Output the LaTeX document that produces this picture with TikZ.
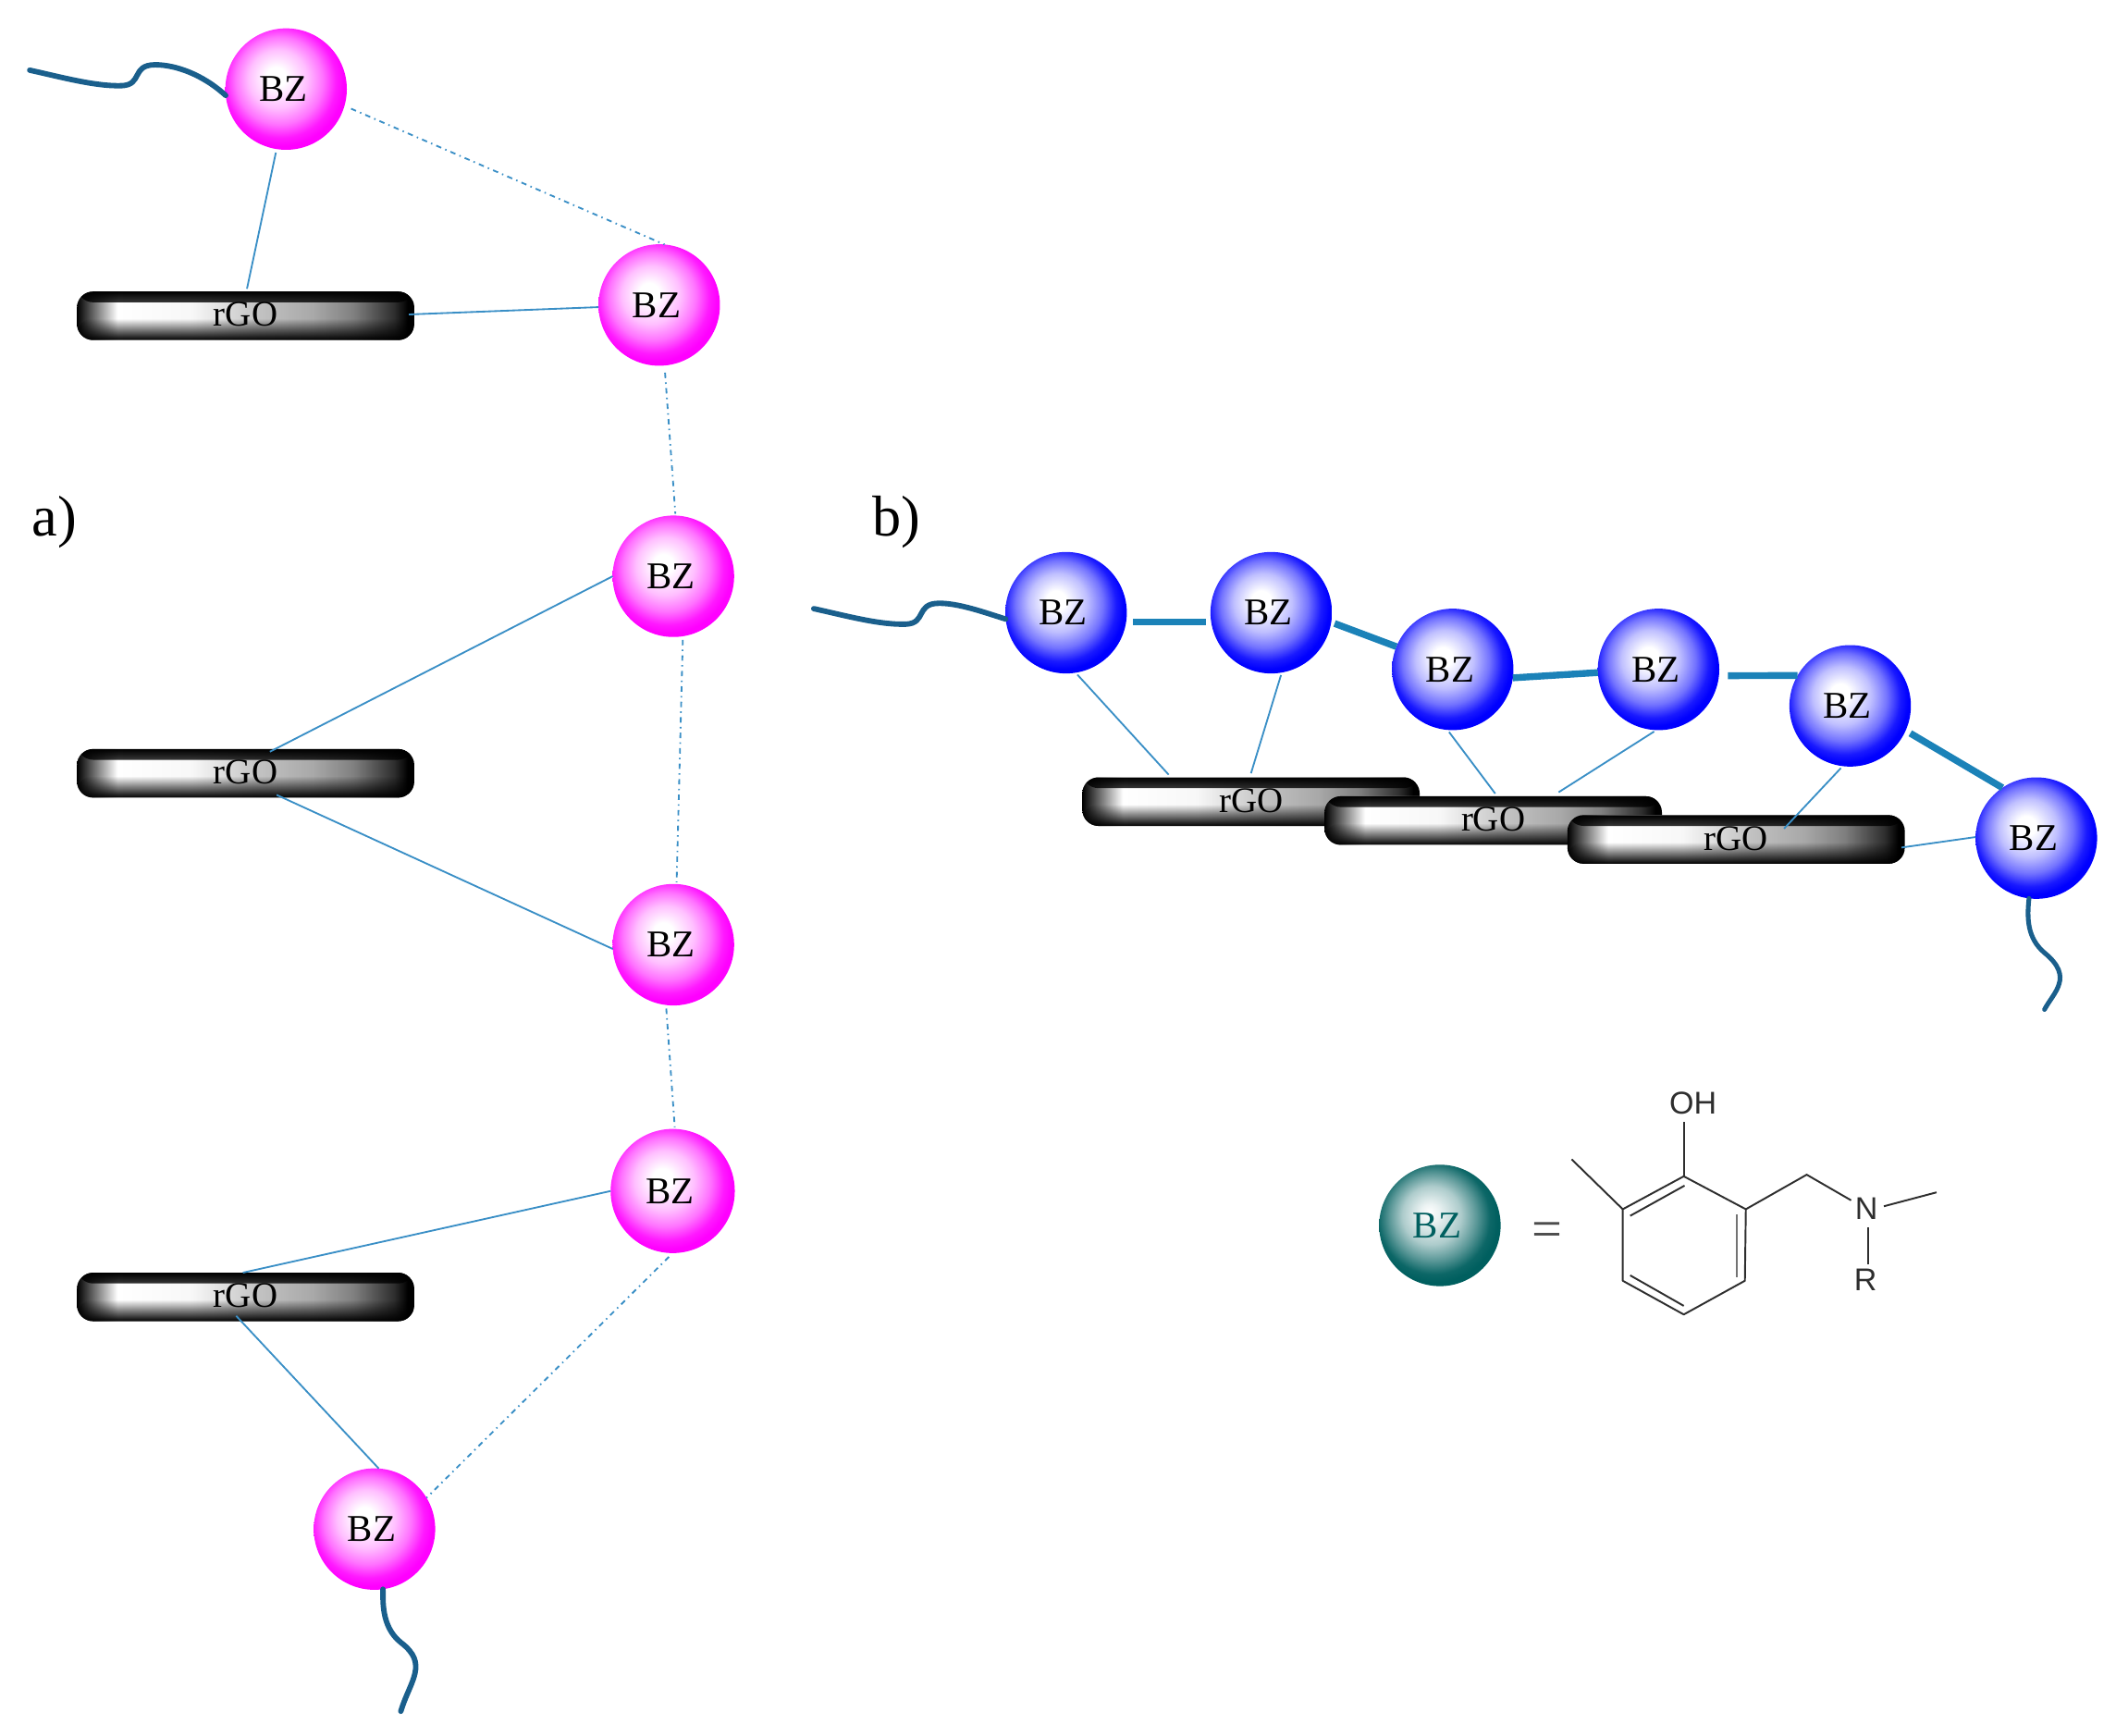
\documentclass[tikz,border=0pt]{standalone}
\usepackage{fontspec}
\setmainfont{Liberation Serif}
\newfontfamily\chemfont{Liberation Sans}
\usetikzlibrary{fadings}
\definecolor{thinblue}{HTML}{3A8FC6}
\definecolor{thickblue}{HTML}{1B82B8}
\definecolor{tailblue}{HTML}{1A5F8C}
\definecolor{bondgray}{HTML}{2E2E2E}
\definecolor{tealrim}{HTML}{005F5F}
\pgfdeclareradialshading{ballmag}{\pgfpoint{-4.5bp}{5.5bp}}{color(0bp)=(white);color(4bp)=(white);color(12bp)=(magenta!25!white);color(18bp)=(magenta!55!white);color(23bp)=(magenta!90!white);color(26bp)=(magenta);color(50bp)=(magenta)}
\pgfdeclareradialshading{ballblue}{\pgfpoint{-4.5bp}{5.5bp}}{color(0bp)=(white);color(4bp)=(white);color(12bp)=(blue!25!white);color(18bp)=(blue!55!white);color(23bp)=(blue!90!white);color(26bp)=(blue);color(50bp)=(blue)}
\pgfdeclareradialshading{ballteal}{\pgfpoint{-4.5bp}{5.5bp}}{color(0bp)=(white);color(4bp)=(tealrim!8!white);color(12bp)=(tealrim!32!white);color(18bp)=(tealrim!65!white);color(23bp)=(tealrim!95!white);color(26bp)=(tealrim);color(50bp)=(tealrim)}
\pgfdeclarehorizontalshading{barh}{100bp}{color(0bp)=(black);color(25bp)=(black);color(28bp)=(white!50!black);color(31bp)=(white);color(42bp)=(white!97!black);color(52bp)=(white!76!black);color(60bp)=(white!66!black);color(66bp)=(white!50!black);color(72bp)=(white!18!black);color(74bp)=(black);color(100bp)=(black)}
\tikzfading[name=fadedown, top color=transparent!0, bottom color=transparent!100]
\tikzfading[name=fadeup, top color=transparent!100, bottom color=transparent!0]
\tikzset{
  x=0.75pt,y=-0.75pt,
  ball/.style={circle,inner sep=0pt,outer sep=0pt,minimum size=67.5pt,text=black,
    font=\fontsize{21}{21}\selectfont},
  magball/.style={ball,shading=ballmag},
  blueball/.style={ball,shading=ballblue},
  tealball/.style={ball,shading=ballteal,text=tealrim},
  bar/.style={rectangle,rounded corners=9pt,inner sep=0pt,outer sep=0pt,
    minimum width=187.5pt,minimum height=27pt,shading=barh,
    font=\fontsize{20}{20}\selectfont,
    path picture={
      \fill[black,path fading=fadedown] (path picture bounding box.north west) rectangle ([yshift=-6pt]path picture bounding box.north east);
      \fill[black,path fading=fadeup] ([yshift=12pt]path picture bounding box.south west) rectangle (path picture bounding box.south east);
    }},
  thinlink/.style={draw=thinblue,line width=0.95pt},
  dashlink/.style={draw=thinblue,line width=0.95pt,dash pattern=on 3pt off 2.4pt on 0.8pt off 2.4pt},
  thicklink/.style={draw=thickblue,line width=3.8pt},
  tail/.style={draw=tailblue,line width=3pt,line cap=round},
  bond/.style={draw=bondgray,line width=1pt},
  grayline/.style={draw=black!55,line width=1.5pt},
  chem/.style={inner sep=0pt,text=bondgray,font=\chemfont\fontsize{17.5}{17.5}\selectfont},
  panel/.style={inner sep=0pt,font=\fontsize{32}{32}\selectfont},
}
\begin{document}
\begin{tikzpicture}
\useasboundingbox (0,0) rectangle (1568,1286);
% bars
\node[bar] (g1) at (182,234) {\raisebox{1.5pt}{rGO}};
\node[bar] (g2) at (182,573) {\raisebox{1.5pt}{rGO}};
\node[bar] (g3) at (182,961) {\raisebox{1.5pt}{rGO}};
\node[bar] (h1) at (927,594) {\raisebox{1.5pt}{rGO}};
\node[bar] (h2) at (1106.5,608) {\raisebox{1.5pt}{rGO}};
\node[bar] (h3) at (1286.5,622) {\raisebox{1.5pt}{rGO}};
% balls
\node[magball] (m1) at (212,66) {BZ\kern3pt};
\node[magball] (m2) at (488.5,226) {BZ\kern3pt};
\node[magball] (m3) at (499,427) {BZ\kern3pt};
\node[magball] (m4) at (499,700) {BZ\kern3pt};
\node[magball,minimum size=69pt] (m5) at (498.5,882.5) {BZ\kern3pt};
\node[magball] (m6) at (277.5,1133) {BZ\kern3pt};
\node[blueball] (b1) at (790,454) {BZ\kern3pt};
\node[blueball] (b2) at (942,454) {BZ\kern3pt};
\node[blueball] (b3) at (1076.5,496) {BZ\kern3pt};
\node[blueball] (b4) at (1229,496) {BZ\kern3pt};
\node[blueball] (b5) at (1371,523) {BZ\kern3pt};
\node[blueball] (b6) at (1509,621) {BZ\kern3pt};
\node[tealball] (leg) at (1067,908) {BZ\kern3pt};
% attachment points on the bars
\coordinate (g1a) at (183,214);
\coordinate (g1b) at (303,233);
\coordinate (g2a) at (200,557);
\coordinate (g2b) at (205,589);
\coordinate (g3a) at (180,943);
\coordinate (g3b) at (175,975);
\coordinate (h1a) at (866,574);
\coordinate (h1b) at (927,573);
\coordinate (h2a) at (1108,588);
\coordinate (h2b) at (1155,587);
\coordinate (h3a) at (1322,614);
\coordinate (h3b) at (1409,628);
% thin links
\draw[thinlink,shorten <=2pt] (m1.-99) -- (g1a);
\draw[thinlink] (m2.182) -- (g1b);
\draw[thinlink] (m3.180) -- (g2a);
\draw[thinlink] (m4.184) -- (g2b);
\draw[thinlink] (m5.180) -- (g3a);
\draw[thinlink] (m6.86) -- (g3b);
\draw[thinlink,shorten <=1.5pt] (b1.-81) -- (h1a);
\draw[thinlink,shorten <=1.5pt] (b2.-80) -- (h1b);
\draw[thinlink,shorten <=1.5pt] (b3.-95) -- (h2a);
\draw[thinlink,shorten <=1.5pt] (b4.-92) -- (h2b);
\draw[thinlink,shorten <=1.5pt] (b5.-97) -- (h3a);
\draw[thinlink] (b6.179) -- (h3b);
% dash-dotted links
\draw[dashlink,shorten <=4pt] (m1.-16) -- (m2.85);
\draw[dashlink,shorten <=4pt,shorten >=1pt] (m2.-85) -- (m3.88);
\draw[dashlink,shorten <=2pt,shorten >=1pt] (m3.-81) -- (m4.87);
\draw[dashlink,shorten <=2pt,shorten >=1pt] (m4.-97) -- (m5.88);
\draw[dashlink,shorten <=3pt] (m5.-90) -- (m6.31);
% thick links
\draw[thicklink,shorten <=4pt,shorten >=3pt] (b1.-9) -- (b2.189);
\draw[thicklink,shorten <=2pt] (b2.-9) -- (b3.158);
\draw[thicklink] (b3.-8) -- (b4.183);
\draw[thicklink,shorten <=5pt] (b4.-6) -- (b5.150);
\draw[thicklink,shorten <=3pt] (b5.-24) -- (b6.124);
% tails
\coordinate (t1) at (22,52);
\draw[tail] (t1) .. controls (45,57) and (70,64) .. (90,63.5)
  .. controls (106,63) and (97,48) .. (115,48)
  .. controls (130,48) and (150,55) .. (m1.186);
\coordinate (t2) at (603,451);
\draw[tail] (t2) .. controls (626,456) and (651,463) .. (671,462.5)
  .. controls (687,462) and (678,447) .. (696,447)
  .. controls (711,447) and (730,454) .. (b1.186);
\coordinate (t3) at (297,1268);
\draw[tail] (m6.-82) .. controls (284,1185) and (282,1205) .. (297,1217)
  .. controls (318,1233) and (304,1245) .. (t3);
\coordinate (t4) at (1515,748);
\draw[tail,line width=2.6pt] (b6.-97) .. controls (1502,680) and (1502,695) .. (1515,706)
  .. controls (1537,724) and (1522,735) .. (t4);
% panel labels
\node[panel] (la) at (40.5,387) {a)};
\node[panel] (lb) at (664.5,387) {b)};
% legend
\node[inner sep=0pt,text=black!70,font=\fontsize{30}{30}\selectfont] (eq) at (1146.5,915) {=};
\coordinate (c1) at (1247.7,871.6);
\coordinate (c2) at (1293.7,896);
\coordinate (c3) at (1293,949);
\coordinate (c4) at (1247.7,974);
\coordinate (c5) at (1202.5,949);
\coordinate (c6) at (1202.5,896);
\coordinate (me) at (1164.6,859);
\coordinate (ch) at (1338.8,870.4);
\coordinate (me2) at (1435,883.5);
\node[chem] (oh) at (1254.5,817.5) {OH};
\node[chem] (nn) at (1383,895.6) {N};
\node[chem] (rr) at (1382.4,948) {R};
\draw[bond,line join=round] (c1) -- (c2) -- (c3) -- (c4) -- (c5) -- (c6) -- cycle;
\draw[bond] (c1) -- (1247.7,831.6);
\draw[bond] (c6) -- (me);
\draw[bond,line join=round] (c2) -- (ch) -- (1371.7,889.4);
\draw[bond] (1396,893.8) -- (me2);
\draw[bond] (1384.6,909.3) -- (1384.6,936.7);
\draw[bond] (1248.3,878.5) -- (1208,900.9);
\draw[grayline] (1287,900) -- (1287,946.3);
\draw[bond] (1208,945) -- (1247.7,967.6);
\end{tikzpicture}
\end{document}
